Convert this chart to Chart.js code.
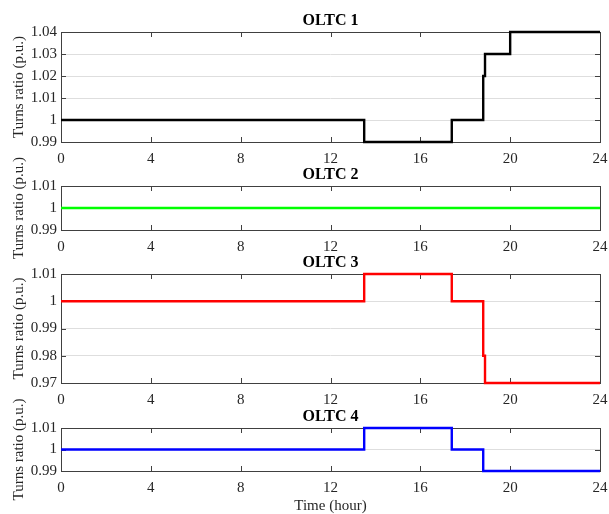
<!DOCTYPE html>
<html>
<head>
<meta charset="utf-8">
<title>OLTC turns ratio</title>
<script src="https://cdn.jsdelivr.net/npm/chart.js@4.4.1/dist/chart.umd.min.js"></script>
<style>
  body { margin: 0; background: #fff; }
  #wrap { position: relative; width: 609px; height: 514px; }
  #wrap canvas { position: absolute; left: 0; top: 0; }
</style>
</head>
<body>
<div id="wrap">
  <canvas id="oltc1" width="609" height="514"></canvas>
  <canvas id="oltc2" width="609" height="514"></canvas>
  <canvas id="oltc3" width="609" height="514"></canvas>
  <canvas id="oltc4" width="609" height="514"></canvas>
</div>
<script>
// tap change instants (hour) and the ratio held from that instant on
const hourTicks = [0, 4, 8, 12, 16, 20, 24];

const oltc1Hours = [0, 13.5, 17.4, 18.8, 18.88, 20, 24];
const oltc1Ratio = [1.00, 0.99, 1.00, 1.02, 1.03, 1.04, 1.04];
const oltc1Ticks = [0.99, 1.00, 1.01, 1.02, 1.03, 1.04];

const oltc2Hours = [0, 24];
const oltc2Ratio = [1.00, 1.00];
const oltc2Ticks = [0.99, 1.00, 1.01];

const oltc3Hours = [0, 13.5, 17.4, 18.8, 18.88, 24];
const oltc3Ratio = [1.00, 1.01, 1.00, 0.98, 0.97, 0.97];
const oltc3Ticks = [0.97, 0.98, 0.99, 1.00, 1.01];

const oltc4Hours = [0, 13.5, 17.4, 18.8, 24];
const oltc4Ratio = [1.00, 1.01, 1.00, 0.99, 0.99];
const oltc4Ticks = [0.99, 1.00, 1.01];

const SERIF = '"Liberation Serif", "Times New Roman", serif';
const AXIS_COLOR = '#404040';
const W = 609, H = 514;

const panels = [
  { id: 'oltc1', title: 'OLTC 1', hours: oltc1Hours, ratio: oltc1Ratio, ticks: oltc1Ticks, color: '#000000', top: 32, bottom: 142 },
  { id: 'oltc2', title: 'OLTC 2', hours: oltc2Hours, ratio: oltc2Ratio, ticks: oltc2Ticks, color: '#00ff00', top: 186, bottom: 230 },
  { id: 'oltc3', title: 'OLTC 3', hours: oltc3Hours, ratio: oltc3Ratio, ticks: oltc3Ticks, color: '#ff0000', top: 274, bottom: 383 },
  { id: 'oltc4', title: 'OLTC 4', hours: oltc4Hours, ratio: oltc4Ratio, ticks: oltc4Ticks, color: '#0000ff', top: 428, bottom: 471, xTitle: 'Time (hour)' }
];

// box around the plot area with inward tick marks; the trace goes on top
const framePlugin = {
  id: 'frame',
  beforeDatasetsDraw(chart) {
    const { ctx, chartArea: a, scales } = chart;
    const len = 5;
    ctx.save();
    ctx.strokeStyle = AXIS_COLOR;
    ctx.lineWidth = 1;
    ctx.beginPath();
    scales.x.ticks.forEach(t => {
      const px = Math.round(scales.x.getPixelForValue(t.value)) + 0.5;
      ctx.moveTo(px, a.bottom); ctx.lineTo(px, a.bottom - len);
      ctx.moveTo(px, a.top); ctx.lineTo(px, a.top + len);
    });
    scales.y.ticks.forEach(t => {
      const py = Math.round(scales.y.getPixelForValue(t.value)) + 0.5;
      ctx.moveTo(a.left, py); ctx.lineTo(a.left + len, py);
      ctx.moveTo(a.right, py); ctx.lineTo(a.right - len, py);
    });
    ctx.stroke();
    ctx.strokeRect(Math.round(a.left) + 0.5, Math.round(a.top) + 0.5,
      Math.round(a.right - a.left), Math.round(a.bottom - a.top));
    ctx.restore();
  }
};

// rotated y label centred on the panel, allowed to run past a short panel
const yLabelPlugin = {
  id: 'yLabel',
  afterDraw(chart, args, opts) {
    const { ctx, chartArea: a } = chart;
    ctx.save();
    ctx.translate(opts.x, (a.top + a.bottom) / 2);
    ctx.rotate(-Math.PI / 2);
    ctx.font = '15px ' + SERIF;
    ctx.fillStyle = '#262626';
    ctx.textAlign = 'center';
    ctx.textBaseline = 'middle';
    ctx.fillText(opts.text, 0, 0);
    ctx.restore();
  }
};

panels.forEach(p => {
  const xh = p.xTitle ? 43 : 30;
  new Chart(document.getElementById(p.id), {
    type: 'line',
    data: {
      datasets: [{
        data: p.hours.map((h, i) => ({ x: h, y: p.ratio[i] })),
        stepped: true,
        borderColor: p.color,
        borderWidth: 2.4,
        pointRadius: 0,
        fill: false,
        clip: 3
      }]
    },
    options: {
      responsive: false,
      animation: false,
      events: [],
      layout: { padding: { left: 0, right: W - 600, top: p.top - 20, bottom: H - p.bottom - xh } },
      plugins: {
        legend: { display: false },
        tooltip: { enabled: false },
        title: {
          display: true,
          fullSize: false,
          text: p.title,
          color: '#000',
          font: { family: SERIF, size: 16, weight: 'bold', lineHeight: 1.125 },
          padding: { top: 0, bottom: 2 }
        },
        yLabel: { text: 'Turns ratio (p.u.)', x: 19 }
      },
      scales: {
        x: {
          type: 'linear',
          min: 0,
          max: 24,
          afterBuildTicks: s => { s.ticks = hourTicks.map(v => ({ value: v })); },
          afterFit: s => { s.height = xh; s.paddingLeft = 0; s.paddingRight = 0; },
          grid: { display: false, drawTicks: false },
          border: { display: false },
          ticks: { padding: 8, color: '#262626', font: { family: SERIF, size: 15 }, maxRotation: 0 },
          title: {
            display: !!p.xTitle,
            text: p.xTitle || '',
            color: '#262626',
            font: { family: SERIF, size: 15, lineHeight: 1 },
            padding: { top: 0, bottom: 0 }
          }
        },
        y: {
          min: p.ticks[0],
          max: p.ticks[p.ticks.length - 1],
          afterBuildTicks: s => { s.ticks = p.ticks.map(v => ({ value: v })); },
          afterFit: s => { s.width = 61; },
          grid: { color: '#dedede', drawTicks: false },
          border: { display: false },
          ticks: {
            padding: 4,
            color: '#262626',
            font: { family: SERIF, size: 15 },
            callback: v => String(Math.round(v * 100) / 100)
          }
        }
      }
    },
    plugins: [framePlugin, yLabelPlugin]
  });
});
</script>
</body>
</html>
